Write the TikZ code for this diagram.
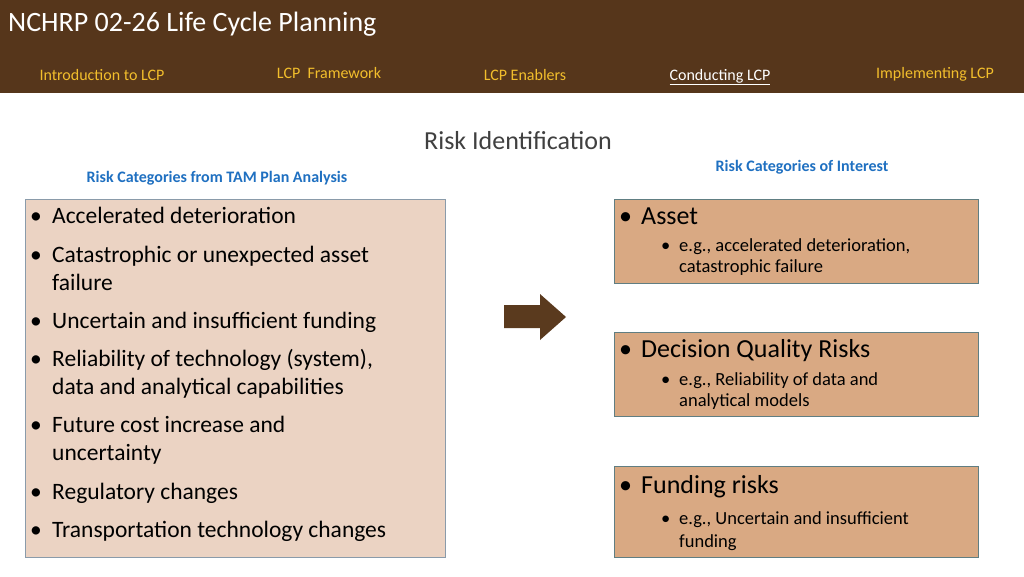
\documentclass[tikz,border=0pt]{standalone}
\usepackage{fontspec}
\setmainfont{Carlito}
\definecolor{hdr}{HTML}{56361B}
\definecolor{nav}{HTML}{F2BE2C}
\definecolor{lbox}{HTML}{EBD3C3}
\definecolor{lbord}{HTML}{8A9BAA}
\definecolor{rbox}{HTML}{D9A983}
\definecolor{rbord}{HTML}{607E82}
\definecolor{blu}{HTML}{1F70C1}
\definecolor{arr}{HTML}{5A3A1E}
\begin{document}
\begin{tikzpicture}[x=1pt,y=-1pt,
 navt/.style={anchor=base,text=nav,font=\fontsize{16}{18}\selectfont},
 lt/.style={anchor=base west,font=\fontsize{23.5}{26}\selectfont,inner sep=0},
 bul/.style={anchor=base west,font=\fontsize{23.5}{26}\selectfont,inner sep=0},
 rt/.style={anchor=base west,font=\fontsize{26}{28}\selectfont,inner sep=0},
 st/.style={anchor=base west,font=\fontsize{18.5}{20}\selectfont,inner sep=0},
 hd/.style={text=blu,font=\bfseries\fontsize{16}{18}\selectfont}]
\useasboundingbox (0,0) rectangle (1024,576);
\fill[white] (0,0) rectangle (1024,576);
\fill[hdr] (0,0) rectangle (1024,93);
\node[anchor=base west,inner sep=0,text=white,font=\fontsize{28}{30}\selectfont] (title) at (8,31) {NCHRP 02-26 Life Cycle Planning};
\node[navt] (n1) at (102,80) {Introduction to LCP};
\node[navt] (n2) at (329,78) {LCP\ \ Framework};
\node[navt] (n3) at (525,80) {LCP Enablers};
\node[navt,text=white] (n4) at (720,80) {\underline{Conducting LCP}};
\node[navt] (n5) at (935,78) {Implementing LCP};
\node[text=black!75,font=\fontsize{26}{28}\selectfont] (rid) at (518,141) {Risk Identification};
\node[hd] (h1) at (217,178) {Risk Categories from TAM Plan Analysis};
\node[hd] (h2) at (802,167) {Risk Categories of Interest};
\draw[lbord,fill=lbox] (25,199) rectangle (445,557);
\foreach \y/\t in {223/Accelerated deterioration,262/Catastrophic or unexpected asset,328/Uncertain and insufficient funding,366/{Reliability of technology (system),},432/Future cost increase and/or,499/Regulatory changes,537/Transportation technology changes}{
 \node[bul] at (30,\y) {•};
 \node[lt] at (52,\y) {\t};}
\foreach \y/\t in {290/failure,394/data and analytical capabilities,460/uncertainty}{
 \node[lt] at (52,\y) {\t};}
\fill[arr] (504,305) -- (540,305) -- (540,294) -- (566,317) -- (540,340) -- (540,328) -- (504,328) -- cycle;
\draw[rbord,fill=rbox] (614,199) rectangle (978,283);
\draw[rbord,fill=rbox] (614,332) rectangle (978,416);
\draw[rbord,fill=rbox] (614,466) rectangle (978,557);
\foreach \y/\t in {224/Asset/Service Failure Risks,357/Decision Quality Risks,493/Funding risks}{
 \node[rt] at (619,\y) {•};
 \node[rt] at (641,\y) {\t};}
\foreach \y/\t in {251/{e.g., accelerated deterioration,},385/{e.g., Reliability of data and},524/{e.g., Uncertain and insufficient}}{
 \node[st] at (661,\y) {•};
 \node[st] at (679,\y) {\t};}
\node[st] at (679,272) {catastrophic failure};
\node[st] at (679,406) {analytical models};
\node[st] at (679,547) {funding};
\end{tikzpicture}
\end{document}
